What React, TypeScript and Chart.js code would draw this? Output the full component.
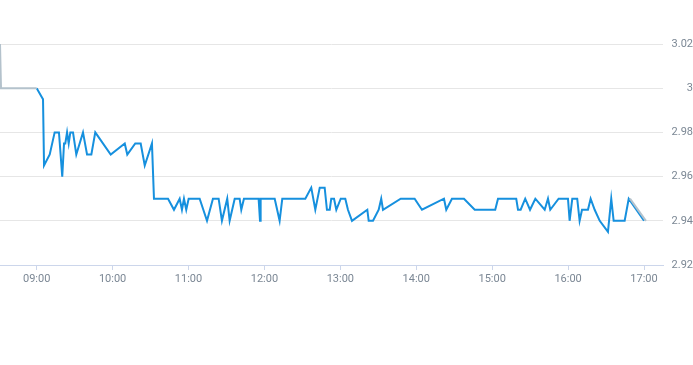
import React, { useEffect, useRef } from "react";
import { Chart, registerables } from "chart.js";

Chart.register(...registerables);

// Minutes since midnight
const mainTimes = [
  540, 545, 545.8, 550.3, 554.2, 557.6, 560.2, 561.6, 562.6, 564, 565.3, 566.6, 568.7, 571.3, 576.6, 579.8,
  583.2, 586.3, 598.5, 609.6, 611.6, 617.9, 622.2, 625.4, 631.1, 632.7, 643.8, 648.5, 653, 654.8, 656.4,
  658.2, 660.1, 668.8, 674.6, 679.3, 683.8, 686.4, 690.6, 692.5, 696.5, 700.4, 701.7, 703.8, 715.4, 716.5,
  717, 728.1, 732, 734.1, 752.3, 757, 760.2, 763.7, 767.6, 769.4, 771.6, 772.8, 775, 776.8, 780.3, 783.9,
  786, 789.2, 801.3, 802.4, 805.8, 810.3, 812.3, 813.7, 827.7, 838.7, 844.5, 861.9, 863.7, 868.2, 877.7,
  886.2, 902.4, 904.6, 919, 920.4, 922.5, 926.1, 929.9, 934.1, 941.5, 944.1, 945.9, 952.5, 959.9, 961.2,
  963.3, 967.2, 969.1, 971, 975.7, 977.8, 981, 985, 991.5, 994.1, 996, 1004.7, 1007.9, 1020,
];
const mainValues = [
  3.0, 2.995, 2.965, 2.97, 2.98, 2.98, 2.96, 2.975, 2.975, 2.98, 2.975, 2.98, 2.98, 2.97, 2.98, 2.97,
  2.97, 2.98, 2.97, 2.975, 2.97, 2.975, 2.975, 2.965, 2.975, 2.95, 2.95, 2.945, 2.95, 2.945, 2.95,
  2.945, 2.95, 2.95, 2.94, 2.95, 2.95, 2.94, 2.95, 2.94, 2.95, 2.95, 2.945, 2.95, 2.95, 2.94,
  2.95, 2.95, 2.94, 2.95, 2.95, 2.955, 2.945, 2.955, 2.955, 2.945, 2.945, 2.95, 2.95, 2.945, 2.95, 2.95,
  2.945, 2.94, 2.945, 2.94, 2.94, 2.945, 2.95, 2.945, 2.95, 2.95, 2.945, 2.95, 2.945, 2.95, 2.95,
  2.945, 2.945, 2.95, 2.95, 2.945, 2.945, 2.95, 2.945, 2.95, 2.945, 2.95, 2.945, 2.95, 2.95, 2.94,
  2.95, 2.95, 2.94, 2.945, 2.945, 2.95, 2.945, 2.94, 2.935, 2.95, 2.94, 2.94, 2.95, 2.94,
];

const extTimes = [511, 511.8, 540];
const extValues = [3.02, 3.0, 3.0];
const lateTimes = [1008.9, 1021.5];
const lateValues = [2.95, 2.94];

const hourTicks = [540, 600, 660, 720, 780, 840, 900, 960, 1020];
const yTicks = [2.92, 2.94, 2.96, 2.98, 3.0, 3.02];

const fmtTime = (m: number) => {
  const h = Math.floor(m / 60);
  const mm = Math.round(m - h * 60);
  return `${String(h).padStart(2, "0")}:${String(mm).padStart(2, "0")}`;
};

export default function App() {
  const ref = useRef<HTMLCanvasElement | null>(null);
  useEffect(() => {
    document.body.style.margin = "0";
    if (!ref.current) return;
    const toPts = (t: number[], v: number[]) => t.map((x, i) => ({ x, y: v[i] }));
    const chart = new Chart(ref.current, {
      type: "line",
      data: {
        datasets: [
          {
            data: toPts(extTimes, extValues),
            borderColor: "#b4c2cc",
            borderWidth: 2,
            pointRadius: 0,
            tension: 0,
          },
          {
            data: toPts(lateTimes, lateValues),
            borderColor: "#b4c2cc",
            borderWidth: 2,
            pointRadius: 0,
            tension: 0,
          },
          {
            data: toPts(mainTimes, mainValues),
            borderColor: "#1690de",
            borderWidth: 2,
            pointRadius: 0,
            tension: 0,
          },
        ],
      },
      options: {
        animation: false,
        responsive: true,
        maintainAspectRatio: false,
        layout: { padding: { top: 44, bottom: 75, left: 0, right: 0 } },
        plugins: { legend: { display: false }, tooltip: { enabled: false } },
        scales: {
          x: {
            type: "linear",
            min: 511,
            max: 1035,
            afterBuildTicks: (s: any) => {
              s.ticks = hourTicks.map((v) => ({ value: v }));
            },
            afterFit: (s: any) => {
              s.height = 25;
            },
            grid: {
              drawOnChartArea: false,
              drawTicks: true,
              tickLength: 5,
              color: "#ccd6eb",
            },
            border: { display: true, color: "#ccd6eb", width: 1 },
            ticks: {
              padding: 3,
              maxRotation: 0,
              autoSkip: false,
              color: "#7b8794",
              font: { family: "Roboto", size: 11 },
              callback: (v: any) => fmtTime(Number(v)),
            },
          },
          y: {
            position: "right",
            min: 2.92,
            max: 3.02,
            afterBuildTicks: (s: any) => {
              s.ticks = yTicks.map((v) => ({ value: v }));
            },
            afterFit: (s: any) => {
              s.width = 30;
            },
            grid: { color: "#e6e6e6", drawTicks: false },
            border: { display: false },
            ticks: {
              padding: 6,
              crossAlign: "far",
              color: "#7b8794",
              font: { family: "Roboto", size: 11 },
              callback: (v: any) => String(Number(Number(v).toFixed(2))),
            },
          },
        },
      },
    });
    return () => chart.destroy();
  }, []);
  return (
    <div style={{ position: "absolute", left: 0, top: 0, width: 693, height: 365 }}>
      <canvas ref={ref} />
    </div>
  );
}
